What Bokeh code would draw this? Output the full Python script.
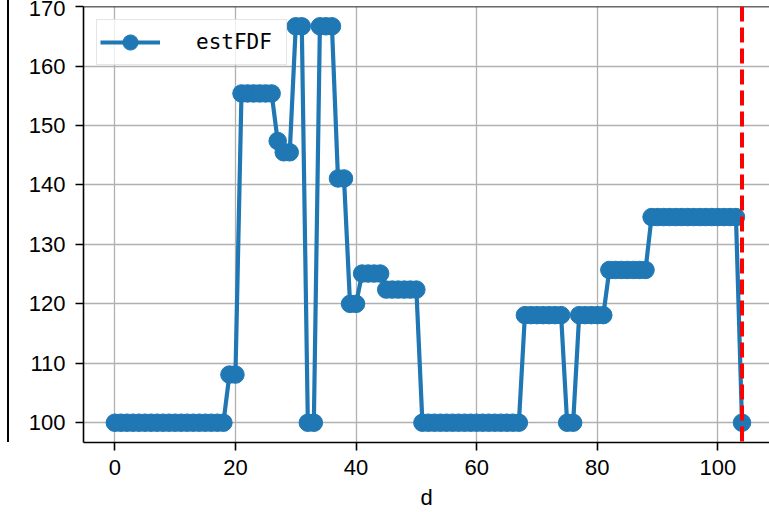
from bokeh.plotting import figure
from bokeh.models import Span, FixedTicker, Div, Range1d
from bokeh.layouts import row
from bokeh.embed import file_html
from bokeh.resources import INLINE

# ---- data ----
d = [0, 1, 2, 3, 4, 5, 6, 7, 8, 9, 10, 11, 12, 13, 14, 15, 16, 17, 18, 19,
     20, 21, 22, 23, 24, 25, 26, 27, 28, 29, 30, 31, 32, 33, 34, 35, 36, 37, 38, 39,
     40, 41, 42, 43, 44, 45, 46, 47, 48, 49, 50, 51, 52, 53, 54, 55, 56, 57, 58, 59,
     60, 61, 62, 63, 64, 65, 66, 67, 68, 69, 70, 71, 72, 73, 74, 75, 76, 77, 78, 79,
     80, 81, 82, 83, 84, 85, 86, 87, 88, 89, 90, 91, 92, 93, 94, 95, 96, 97, 98, 99,
     100, 101, 102, 103, 104]
estFDF = [100, 100, 100, 100, 100, 100, 100, 100, 100, 100,
          100, 100, 100, 100, 100, 100, 100, 100, 100, 108.1,
          108.1, 155.4, 155.4, 155.4, 155.4, 155.4, 155.4, 147.4, 145.5, 145.5,
          166.7, 166.7, 100, 100, 166.7, 166.7, 166.7, 141.1, 141.1, 120.0,
          120.0, 125.1, 125.1, 125.1, 125.1, 122.4, 122.4, 122.4, 122.4, 122.4,
          122.4, 100, 100, 100, 100, 100, 100, 100, 100, 100,
          100, 100, 100, 100, 100, 100, 100, 100, 118.1, 118.1,
          118.1, 118.1, 118.1, 118.1, 118.1, 100, 100, 118.1, 118.1, 118.1,
          118.1, 118.1, 125.7, 125.7, 125.7, 125.7, 125.7, 125.7, 125.7, 134.6,
          134.6, 134.6, 134.6, 134.6, 134.6, 134.6, 134.6, 134.6, 134.6, 134.6,
          134.6, 134.6, 134.6, 134.6, 100]
x_ticks = [0, 20, 40, 60, 80, 100]
y_ticks = [100, 110, 120, 130, 140, 150, 160, 170]
marked_d = 104
series_name = "estFDF"
x_label = "d"

BLUE = "#1f77b4"
TICK_FONT = "Liberation Sans"

p = figure(width=760, height=512, output_backend="svg", toolbar_location=None,
           x_range=Range1d(-5.2, 108.56), y_range=Range1d(96.67, 170.03),
           min_border_left=74, min_border_right=0, min_border_top=6,
           min_border_bottom=70, margin=0)

p.outline_line_color = None
p.background_fill_color = "white"
p.border_fill_color = "white"

# grid
for g in (p.xgrid, p.ygrid):
    g.grid_line_color = "#b0b0b0"
    g.grid_line_width = 1.3
p.xgrid.ticker = FixedTicker(ticks=x_ticks)
p.ygrid.ticker = FixedTicker(ticks=y_ticks)

# axes
for ax in (p.xaxis, p.yaxis):
    ax.axis_line_color = "black"
    ax.axis_line_width = 1.6
    ax.major_tick_line_color = "black"
    ax.major_tick_line_width = 1.6
    ax.major_tick_out = 8
    ax.major_tick_in = 0
    ax.minor_tick_line_color = None
    ax.major_label_text_font = TICK_FONT
    ax.major_label_text_font_size = "22px"
    ax.major_label_text_color = "black"
p.xaxis.ticker = FixedTicker(ticks=x_ticks)
p.yaxis.ticker = FixedTicker(ticks=y_ticks)
p.xaxis.major_label_standoff = 9
p.yaxis.major_label_standoff = 10

p.xaxis.axis_label = x_label
p.xaxis.axis_label_text_font = TICK_FONT
p.xaxis.axis_label_text_font_size = "22px"
p.xaxis.axis_label_text_font_style = "normal"
p.xaxis.axis_label_text_color = "black"
p.xaxis.axis_label_standoff = 7

# top spine
p.add_layout(Span(location=170.03, dimension="width", line_color="black", line_width=1.6))

# series
p.line(d, estFDF, line_color=BLUE, line_width=4.2, legend_label=series_name)
p.scatter(d, estFDF, size=17.5, fill_color=BLUE, line_color=BLUE, legend_label=series_name)

# marker line
p.add_layout(Span(location=marked_d, dimension="height", line_color="red",
                  line_width=4, line_dash="15 6"))

# legend
lg = p.legend[0]
lg.location = "top_left"
lg.margin = 13
lg.padding = 3
lg.spacing = 0
lg.glyph_width = 60
lg.glyph_height = 38
lg.label_standoff = 36
lg.label_width = 87
lg.label_text_font = "DejaVu Sans Mono"
lg.label_text_font_size = "21px"
lg.label_text_color = "black"
lg.border_line_color = "#cccccc"
lg.border_line_width = 1
lg.background_fill_color = "white"
lg.background_fill_alpha = 0.8

left_edge = Div(text="", width=2, height=442, margin=(0, 0, 0, 7),
                styles={"background-color": "black"})

layout = row(left_edge, p, spacing=0)

open("out.html", "w").write(file_html(layout, INLINE))
